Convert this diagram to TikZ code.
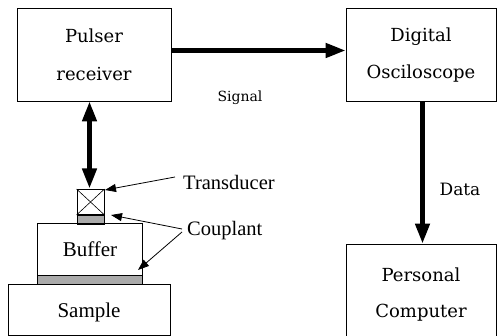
\documentclass[tikz,border=0pt]{standalone}
\usepackage{fontspec}
\setmainfont{Liberation Serif}
\newfontfamily\charfont{DejaVu Serif}
\usetikzlibrary{arrows.meta}
\definecolor{coupl}{RGB}{170,170,170}
\tikzset{
  box/.style={draw, line width=0.8pt, inner sep=0pt},
  bighead/.tip={Triangle[length=20pt,width=14pt]},
  thick arrow/.style={line width=4.5pt, -bighead},
  thin arrow/.style={line width=0.8pt, -{Triangle[length=11pt,width=8pt]}},
  lab/.style={inner sep=0pt, anchor=base},
}
\begin{document}
\begin{tikzpicture}[x=1pt,y=-1pt]
\useasboundingbox (0,0) rectangle (497,336);
% boxes
\node[box, minimum width=154pt, minimum height=93pt] (pulser) at (94,54.5) {};
\node[box, minimum width=150pt, minimum height=93pt] (osc) at (421,54.5) {};
\node[box, minimum width=150pt, minimum height=92pt] (pc) at (421,290) {};
\node[box, minimum width=27pt, minimum height=25pt] (tr) at (90.5,202) {};
\draw[line width=0.6pt] (tr.north west) -- (tr.south east) (tr.north east) -- (tr.south west);
\node[box, fill=coupl, minimum width=27pt, minimum height=9pt, anchor=north] (c1) at (tr.south) {};
\node[box, minimum width=105pt, minimum height=51pt, anchor=north] (buf) at (89.5,223.5) {};
\node[box, fill=coupl, minimum width=105pt, minimum height=9pt, anchor=north] (c2) at (buf.south) {};
\node[box, minimum width=162pt, minimum height=51pt, anchor=north] (sam) at (89,283.5) {};
% texts
\node[lab] at (94,43) {\charfont\fontsize{18}{20}\selectfont Pulser};
\node[lab] at (94,81) {\charfont\fontsize{18}{20}\selectfont receiver};
\node[lab] at (421,42) {\charfont\fontsize{18}{20}\selectfont Digital};
\node[lab] at (421,79) {\charfont\fontsize{18}{20}\selectfont Osciloscope};
\node[lab] at (421,281) {\charfont\fontsize{18}{20}\selectfont Personal};
\node[lab] at (421,317) {\charfont\fontsize{18}{20}\selectfont Computer};
\node[lab] at (90,257) {\fontsize{21}{22}\selectfont Buffer};
\node[lab] at (89,317) {\fontsize{21}{22}\selectfont Sample};
\node[lab] (sig) at (240,102) {\charfont\fontsize{14}{16}\selectfont Signal};
\node[lab] (data) at (460,196) {\charfont\fontsize{17}{18}\selectfont Data};
\node[lab, anchor=west] (trl) at (183,182) {\fontsize{20.5}{22}\selectfont Transducer};
\node[lab, anchor=west] (cpl) at (187,231) {\fontsize{20.5}{22}\selectfont Couplant};
% connectors
\draw[thick arrow] (pulser.east |- 0,50.5) -- (osc.west |- 0,50.5);
\draw[thick arrow] (osc.south -| 422.5,0) -- (pc.north -| 422.5,0);
\draw[line width=4.5pt, bighead-bighead] (pulser.south -| 89.5,0) -- (89.5,188.5);
\coordinate (ta) at (175,177);
\coordinate (ca) at (182,229);
\coordinate (cb) at (182,232);
\draw[thin arrow] (ta) -- (105,190);
\draw[thin arrow] (ca) -- (111,215);
\draw[thin arrow] (cb) -- (138,270);
\end{tikzpicture}
\end{document}
